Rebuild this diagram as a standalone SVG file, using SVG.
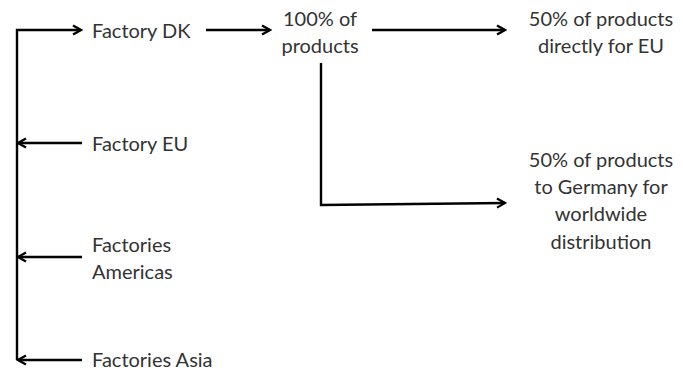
<svg xmlns="http://www.w3.org/2000/svg" width="683" height="374" viewBox="0 0 683 374">
<defs>
<marker id="ah" markerWidth="12" markerHeight="12" refX="10" refY="6" orient="auto" markerUnits="userSpaceOnUse">
<path d="M2,1.5 L10,6 L2,10.5" fill="none" stroke="#000" stroke-width="2.2"/>
</marker>
<style>
.t{font-family:Lato,"Open Sans",sans-serif;font-size:20px;fill:#333}
.c{text-anchor:middle}
.l{fill:none;stroke:#000;stroke-width:2.4}
</style>
</defs>
<rect width="683" height="374" fill="#fff"/>
<g id="connectors">
<path class="l" d="M17,360 L17,30 L81,30" marker-end="url(#ah)"/>
<path class="l" d="M82,143 L18,143" marker-end="url(#ah)"/>
<path class="l" d="M82,257 L18,257" marker-end="url(#ah)"/>
<path class="l" d="M82,360 L18,360" marker-end="url(#ah)"/>
<path class="l" d="M206,30 L270,30" marker-end="url(#ah)"/>
<path class="l" d="M372,30 L505,30" marker-end="url(#ah)"/>
<path class="l" d="M321,63 L321,205 L505,203" marker-end="url(#ah)"/>
</g>
<g id="factory-dk"><text class="t" x="92" y="38">Factory DK</text></g>
<g id="factory-eu"><text class="t" x="92" y="151">Factory EU</text></g>
<g id="factories-americas"><text class="t" x="92" y="252">Factories</text><text class="t" x="92" y="279">Americas</text></g>
<g id="factories-asia"><text class="t" x="92" y="367">Factories Asia</text></g>
<g id="products-100"><text class="t c" x="320" y="26">100% of</text><text class="t c" x="320" y="53">products</text></g>
<g id="eu-50"><text class="t c" x="601" y="26">50% of products</text><text class="t c" x="601" y="53">directly for EU</text></g>
<g id="germany-50"><text class="t c" x="601" y="167">50% of products</text><text class="t c" x="601" y="194">to Germany for</text><text class="t c" x="601" y="221">worldwide</text><text class="t c" x="601" y="249">distribution</text></g>
</svg>
